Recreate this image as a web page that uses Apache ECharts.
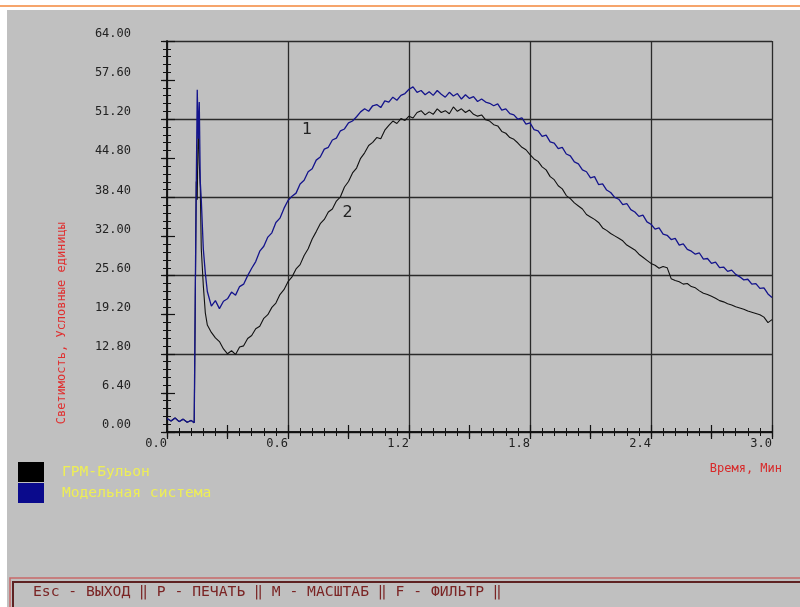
<!DOCTYPE html>
<html lang="ru">
<head>
<meta charset="UTF-8">
<title>Светимость</title>
<script src="https://cdn.jsdelivr.net/npm/echarts@6/dist/echarts.min.js"></script>
<style>
  body { margin: 0; padding: 0; background: #fff; }
  #chart { width: 800px; height: 607px; }
</style>
</head>
<body>
<div id="chart"></div>
<script>
  // время, мин: участок до вспышки и основной участок
  const tStart = [0, 0.02, 0.04, 0.06, 0.08, 0.1, 0.12, 0.135, 0.14, 0.145, 0.15, 0.155, 0.16, 0.165, 0.17, 0.18, 0.19];
  const tMain = [
    0.20, 0.22, 0.24, 0.26, 0.28, 0.30, 0.32, 0.34, 0.36, 0.38,
    0.40, 0.42, 0.44, 0.46, 0.48, 0.50, 0.52, 0.54, 0.56, 0.58,
    0.60, 0.62, 0.64, 0.66, 0.68, 0.70, 0.72, 0.74, 0.76, 0.78,
    0.80, 0.82, 0.84, 0.86, 0.88, 0.90, 0.92, 0.94, 0.96, 0.98,
    1.00, 1.02, 1.04, 1.06, 1.08, 1.10, 1.12, 1.14, 1.16, 1.18,
    1.20, 1.22, 1.24, 1.26, 1.28, 1.30, 1.32, 1.34, 1.36, 1.38,
    1.40, 1.42, 1.44, 1.46, 1.48, 1.50, 1.52, 1.54, 1.56, 1.58,
    1.60, 1.62, 1.64, 1.66, 1.68, 1.70, 1.72, 1.74, 1.76, 1.78,
    1.80, 1.82, 1.84, 1.86, 1.88, 1.90, 1.92, 1.94, 1.96, 1.98,
    2.00, 2.02, 2.04, 2.06, 2.08, 2.10, 2.12, 2.14, 2.16, 2.18,
    2.20, 2.22, 2.24, 2.26, 2.28, 2.30, 2.32, 2.34, 2.36, 2.38,
    2.40, 2.42, 2.44, 2.46, 2.48, 2.50, 2.52, 2.54, 2.56, 2.58,
    2.60, 2.62, 2.64, 2.66, 2.68, 2.70, 2.72, 2.74, 2.76, 2.78,
    2.80, 2.82, 2.84, 2.86, 2.88, 2.90, 2.92, 2.94, 2.96, 2.98,
    3.00];

  // кривая 2 - ГРМ-бульон (чёрная)
  const brothStart = [2.2, 1.8, 2.3, 1.7, 2.1, 1.6, 1.9, 1.5, 20, 41, 38, 52, 44, 40, 30, 24, 19.5];
  const brothMain = [
    17.5, 16.3, 15.4, 14.8, 13.6, 12.8, 13.3, 12.7, 13.9, 14.1,
    15.3, 15.8, 16.9, 17.3, 18.6, 19.2, 20.4, 21.1, 22.5, 23.3,
    24.6, 25.4, 26.7, 27.4, 28.9, 30.0, 31.6, 32.8, 34.1, 34.8,
    36.0, 36.5, 37.8, 38.5, 40.1, 41.0, 42.4, 43.2, 44.8, 45.7,
    46.9, 47.4, 48.2, 48.0, 49.4, 50.2, 50.9, 50.5, 51.3, 51.0,
    51.7, 51.4, 52.3, 52.6, 51.9, 52.4, 52.0, 52.9, 52.3, 52.6,
    52.1, 53.2, 52.5, 52.9, 52.3, 52.7, 52.0, 51.7, 51.9, 51.1,
    50.9, 50.3, 50.1, 49.2, 48.9, 48.2, 47.9, 47.3, 46.6, 46.2,
    45.4, 44.7, 44.3, 43.4, 42.9, 41.8, 41.3, 40.3, 39.8, 38.7,
    38.2, 37.5, 37.0, 36.5, 35.6, 35.2, 34.8, 34.3, 33.4, 33.0,
    32.5, 32.1, 31.7, 31.3, 30.6, 30.2, 29.8, 29.1, 28.6, 28.1,
    27.6, 27.3, 26.8, 27.1, 26.9, 25.1, 24.8, 24.6, 24.2, 24.3,
    23.8, 23.6, 23.1, 22.7, 22.5, 22.2, 21.9, 21.5, 21.3, 21.0,
    20.8, 20.5, 20.3, 20.1, 19.8, 19.6, 19.4, 19.2, 18.8, 17.9,
    18.4];

  // кривая 1 - модельная система (синяя)
  const modelStart = [2.2, 1.8, 2.3, 1.7, 2.1, 1.6, 1.9, 1.5, 22, 40, 56, 48, 54, 41, 38, 30, 26];
  const modelMain = [
    23.0, 20.6, 21.5, 20.2, 21.4, 21.8, 22.9, 22.4, 23.8, 24.2,
    25.6, 26.8, 27.9, 29.6, 30.4, 31.9, 32.6, 34.3, 35.0, 36.6,
    37.9, 38.6, 39.1, 40.6, 41.2, 42.6, 43.1, 44.5, 45.0, 46.3,
    46.6, 47.8, 48.1, 49.3, 49.6, 50.6, 50.9, 51.6, 52.4, 52.9,
    52.5, 53.4, 53.6, 53.1, 54.2, 54.0, 54.8, 54.3, 55.1, 55.4,
    56.1, 56.5, 55.6, 55.9, 55.2, 55.7, 55.1, 55.9, 55.3, 54.8,
    55.6, 55.0, 55.4, 54.5, 55.2, 54.6, 54.9, 54.1, 54.5, 54.0,
    53.8, 53.4, 53.7, 52.7, 52.9, 52.1, 51.9, 51.2, 51.4, 50.4,
    50.6, 49.5, 49.3, 48.4, 48.6, 47.5, 47.3, 46.4, 46.6, 45.5,
    45.2, 44.2, 43.9, 42.9, 42.6, 41.6, 41.8, 40.5, 40.6, 39.6,
    39.2, 38.4, 38.1, 37.2, 37.4, 36.4, 36.0, 35.3, 35.5, 34.4,
    34.0, 33.2, 33.4, 32.4, 32.2, 31.5, 31.7, 30.6, 30.8, 29.9,
    29.6, 29.1, 29.3, 28.3, 28.4, 27.6, 27.8, 26.9, 27.0, 26.3,
    26.5, 25.8, 25.4, 24.9, 25.0, 24.2, 24.3, 23.5, 23.6, 22.6,
    22.0];

  const seriesNames = ['ГРМ-Бульон', 'Модельная система'];
  const curveMarks = [['2', 0.895, 35.8], ['1', 0.695, 49.4]];

  const mono = 'DejaVu Sans Mono';
  const chart = echarts.init(document.getElementById('chart'));

  const rect = { left: 167, top: 41, right: 28, bottom: 175 };

  function pairs(t, v) {
    return t.map((x, i) => [x, v[i]]);
  }

  const tAll = tStart.concat(tMain);
  const hideAll = { axisLine: { show: false }, axisTick: { show: false }, axisLabel: { show: false }, splitLine: { show: false } };

  const option = {
    backgroundColor: '#ffffff',
    animation: false,
    grid: [
      Object.assign({}, rect),
      Object.assign({}, rect),
      Object.assign({}, rect)
    ],
    xAxis: [
      {
        gridIndex: 0, type: 'value', position: 'bottom', min: 0, max: 3, interval: 0.3,
        axisLine: { lineStyle: { color: '#111', width: 1.5 } },
        axisTick: { inside: true, length: 7, lineStyle: { color: '#111', width: 1.2 } },
        minorTick: { show: true, splitNumber: 5, length: 4, lineStyle: { color: '#111', width: 1 } },
        axisLabel: {
          margin: 6, align: 'right', color: '#222', fontFamily: mono, fontSize: 12,
          formatter: v => (Math.round(v / 0.3) % 2 === 0 ? v.toFixed(1) : '')
        },
        splitLine: { show: false }
      },
      {
        gridIndex: 0, type: 'value', position: 'top', min: 0, max: 3, interval: 0.3,
        axisLine: { lineStyle: { color: '#111', width: 1.5 } },
        axisTick: { inside: true, length: 7, lineStyle: { color: '#111', width: 1.2 } },
        minorTick: { show: true, splitNumber: 5, length: 4, lineStyle: { color: '#111', width: 1 } },
        axisLabel: { show: false },
        splitLine: { show: false }
      },
      {
        gridIndex: 1, type: 'value', position: 'bottom', min: 0, max: 3, interval: 0.3,
        axisLine: { show: false },
        axisTick: { inside: false, length: 5, lineStyle: { color: '#111', width: 1.2 } },
        axisLabel: { show: false },
        splitLine: { show: false }
      },
      Object.assign({ gridIndex: 2, type: 'value', min: 0, max: 3, interval: 0.6 }, hideAll,
        { splitLine: { show: true, lineStyle: { color: '#2a2a2a', width: 1.3 } } })
    ],
    yAxis: [
      {
        gridIndex: 0, type: 'value', position: 'left', min: 0, max: 64, interval: 6.4,
        axisLine: { lineStyle: { color: '#111', width: 1.5 } },
        axisTick: { inside: true, length: 8, lineStyle: { color: '#111', width: 1.2 } },
        minorTick: { show: true, splitNumber: 5, length: 4, lineStyle: { color: '#111', width: 1 } },
        axisLabel: {
          margin: 36, color: '#222', fontFamily: mono, fontSize: 12, verticalAlign: 'bottom', lineHeight: 14,
          formatter: v => v.toFixed(2)
        },
        splitLine: { show: false }
      },
      {
        gridIndex: 0, type: 'value', position: 'right', min: 0, max: 64, interval: 6.4,
        axisLine: { lineStyle: { color: '#111', width: 1.5 } },
        axisTick: { inside: true, length: 6, lineStyle: { color: '#111', width: 1.2 } },
        minorTick: { show: true, splitNumber: 5, length: 4, lineStyle: { color: '#111', width: 1 } },
        axisLabel: { show: false },
        splitLine: { show: false }
      },
      {
        gridIndex: 1, type: 'value', position: 'left', min: 0, max: 64, interval: 6.4,
        axisLine: { show: false },
        axisTick: { inside: false, length: 4, lineStyle: { color: '#111', width: 1.2 } },
        axisLabel: { show: false },
        splitLine: { show: false }
      },
      Object.assign({ gridIndex: 2, type: 'value', min: 0, max: 64, interval: 12.8 }, hideAll,
        { splitLine: { show: true, lineStyle: { color: '#2a2a2a', width: 1.3 } } })
    ],
    legend: {
      left: 18, top: 462, orient: 'vertical', icon: 'rect', padding: 0,
      itemWidth: 26, itemHeight: 20, itemGap: 1, selectedMode: false,
      data: seriesNames,
      textStyle: { color: '#eeee55', fontFamily: mono, fontSize: 14.6, padding: [0, 0, 0, 13] }
    },
    series: [
      {
        name: seriesNames[0], type: 'line', xAxisIndex: 0, yAxisIndex: 0,
        data: pairs(tAll, brothStart.concat(brothMain)), showSymbol: false, color: '#000000',
        lineStyle: { color: '#111111', width: 1.1 },
        markPoint: {
          symbolSize: 0, silent: true,
          label: { show: true, color: '#222', fontSize: 16, fontFamily: 'DejaVu Sans', formatter: p => p.name },
          data: curveMarks.map(m => ({ name: m[0], coord: [m[1], m[2]] }))
        }
      },
      {
        name: seriesNames[1], type: 'line', xAxisIndex: 0, yAxisIndex: 0,
        data: pairs(tAll, modelStart.concat(modelMain)), showSymbol: false, color: '#0a0a8c',
        lineStyle: { color: '#14148c', width: 1.3 }
      }
    ],
    graphic: [
      // верхняя оранжевая линия окна
      { type: 'line', z: -20, silent: true, shape: { x1: 0, y1: 6, x2: 800, y2: 6 },
        style: { stroke: '#f6a56c', lineWidth: 2 } },
      // серая панель
      { type: 'rect', z: -20, silent: true, shape: { x: 7, y: 10, width: 793, height: 597 },
        style: { fill: '#c0c0c0' } },
      { type: 'text', left: 56, top: 222, rotation: Math.PI / 2, silent: true,
        style: { text: 'Светимость, Условные единицы', fill: '#e03030', font: '12px ' + mono } },
      { type: 'text', right: 18, top: 463, silent: true,
        style: { text: 'Время, Мин', fill: '#d82828', font: '12px ' + mono } },
      // строка меню
      { type: 'rect', silent: true, shape: { x: 10, y: 578, width: 800, height: 40 },
        style: { fill: 'none', stroke: '#c86868', lineWidth: 1.5 } },
      { type: 'rect', silent: true, shape: { x: 13, y: 582, width: 800, height: 40 },
        style: { fill: 'none', stroke: '#5e2222', lineWidth: 2 } },
      { type: 'text', left: 33, top: 585, silent: true,
        style: { text: 'Esc - ВЫХОД ‖ P - ПЕЧАТЬ ‖ M - МАСШТАБ ‖ F - ФИЛЬТР ‖', fill: '#7a2424', font: '14.7px ' + mono } }
    ]
  };

  chart.setOption(option);
</script>
</body>
</html>
